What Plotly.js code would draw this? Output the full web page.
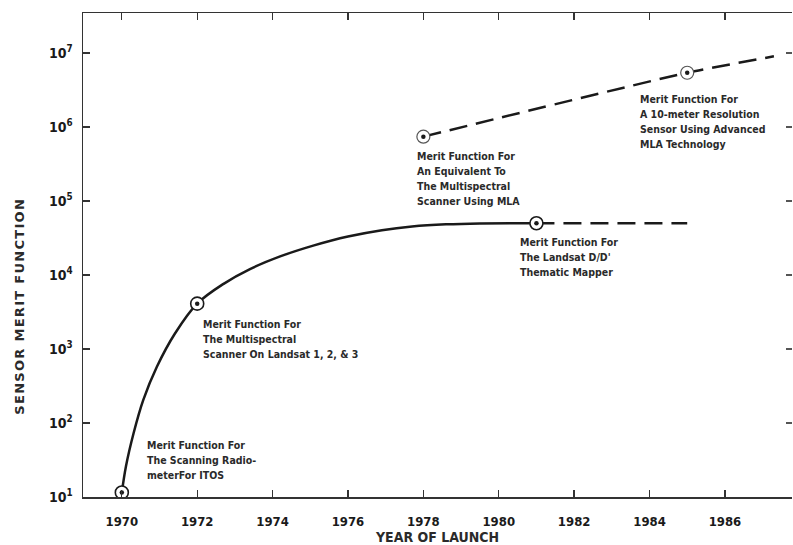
<!DOCTYPE html>
<html>
<head>
<meta charset="utf-8">
<script src="https://cdn.plot.ly/plotly-3.0.1.min.js"></script>
<style>html,body{margin:0;padding:0;background:#fff;overflow:hidden}</style>
</head>
<body>
<div id="chart" style="width:793px;height:545px"></div>
<script>
// Solid curve (achieved sensors)
const curveYears  = [1970, 1970.11, 1970.31, 1970.57, 1970.93, 1971.41, 1972, 1972.7, 1973.4, 1974.2, 1975.1, 1976.0, 1976.9, 1977.7, 1978.6, 1979.5, 1981];
const curveValues = [11.5, 26, 72, 205, 575, 1620, 4100, 7590, 12000, 17800, 25100, 33100, 40300, 45200, 48400, 49800, 50000];

// Dashed continuation of the Landsat D/D' level
const landsatYears  = [1981, 1985];
const landsatValues = [50000, 50000];

// Dashed MLA projection
const mlaYears  = [1978, 1985, 1987.3];
const mlaValues = [740000, 5400000, 9000000];

// Marked sensors
const achievedYears  = [1970, 1972, 1981];
const achievedValues = [11.5, 4100, 50000];
const projectedYears  = [1978, 1985];
const projectedValues = [740000, 5400000];

// Axis ticks
const xTickVals = [1970, 1972, 1974, 1976, 1978, 1980, 1982, 1984, 1986];
const yTickVals = [10, 100, 1000, 10000, 100000, 1000000, 10000000];
const yTickText = ["10<sup>1</sup>", "10<sup>2</sup>", "10<sup>3</sup>", "10<sup>4</sup>", "10<sup>5</sup>", "10<sup>6</sup>", "10<sup>7</sup>"];

// Annotation texts (line by line) and where each block starts (year, log10 value of its top)
const notes = [
  {lines: ["Merit Function For", "The Scanning Radio-", "meterFor ITOS"], x: 1970.62, y: 1.81},
  {lines: ["Merit Function For", "The Multispectral", "Scanner On Landsat 1, 2, & 3"], x: 1972.10, y: 3.45},
  {lines: ["Merit Function For", "An Equivalent To", "The Multispectral", "Scanner Using MLA"], x: 1977.78, y: 5.72},
  {lines: ["Merit Function For", "The Landsat D/D'", "Thematic Mapper"], x: 1980.51, y: 4.56},
  {lines: ["Merit Function For", "A 10-meter Resolution", "Sensor Using Advanced", "MLA Technology"], x: 1983.69, y: 6.48}
];
const LINE_STEP = 15 / 74; // one text line in log10 units on this axis

const FONT = "'Liberation Sans Narrow', 'Arial Narrow', 'DejaVu Sans Condensed', sans-serif";
const INK = "#1a1a1a";

const traces = [
  {x: curveYears, y: curveValues, mode: "lines", line: {color: INK, width: 2.5, shape: "spline", smoothing: 1}, hoverinfo: "skip"},
  {x: landsatYears, y: landsatValues, mode: "lines", line: {color: INK, width: 2.5, dash: "18px,9px"}, hoverinfo: "skip"},
  {x: mlaYears, y: mlaValues, mode: "lines", line: {color: INK, width: 2.5, dash: "18px,9px", shape: "spline", smoothing: 0.6}, hoverinfo: "skip"},
  // achieved: ring + center dot
  {x: achievedYears, y: achievedValues, mode: "markers", marker: {symbol: "circle", size: 13, color: "#ffffff", line: {color: INK, width: 1.6}}, hoverinfo: "skip"},
  {x: achievedYears, y: achievedValues, mode: "markers", marker: {symbol: "circle", size: 4.5, color: INK, line: {width: 0}}, hoverinfo: "skip"},
  // projected: lighter ring + center dot
  {x: projectedYears, y: projectedValues, mode: "markers", marker: {symbol: "circle", size: 13, color: "#ffffff", line: {color: "#555", width: 1.2}}, hoverinfo: "skip"},
  {x: projectedYears, y: projectedValues, mode: "markers", marker: {symbol: "circle", size: 4.5, color: INK, line: {width: 0}}, hoverinfo: "skip"},
  {x: [1970], y: [10], yaxis: "y2", mode: "markers", marker: {opacity: 0}, hoverinfo: "skip"}
];

const annotations = [];
notes.forEach(n => {
  n.lines.forEach((t, i) => {
    annotations.push({
      text: t, x: n.x, y: n.y - i * LINE_STEP, xref: "x", yref: "y",
      xanchor: "left", yanchor: "top", align: "left", showarrow: false,
      font: {family: FONT, size: 10.5, color: "#2a2a2a", weight: "bold"}
    });
  });
});
// y-axis title (sits off-centre in the original, so placed as a rotated label)
annotations.push({
  text: "S\u200AE\u200AN\u200AS\u200AO\u200AR\u2009 M\u200AE\u200AR\u200AI\u200AT\u2009 F\u200AU\u200AN\u200AC\u200AT\u200AI\u200AO\u200AN",
  xref: "paper", yref: "paper", x: -0.089, y: 0.393, textangle: -90,
  xanchor: "center", yanchor: "middle", showarrow: false,
  font: {family: "'DejaVu Sans', sans-serif", size: 13, color: "#2a2a2a", weight: "bold"}
});

const layout = {
  width: 793, height: 545,
  margin: {l: 83, r: 1, t: 13, b: 48},
  paper_bgcolor: "#ffffff", plot_bgcolor: "#ffffff",
  showlegend: false,
  font: {family: FONT, color: INK},
  xaxis: {
    range: [1968.97, 1987.78],
    tickvals: xTickVals, ticktext: xTickVals.map(String),
    ticks: "inside", ticklen: 7, tickwidth: 1.3, tickcolor: "#333",
    showline: true, linecolor: "#333", linewidth: 1.5, mirror: "ticks",
    showgrid: false, zeroline: false,
    tickfont: {family: FONT, size: 13, color: INK, weight: "bold"},
    ticklabelstandoff: 12,
    title: {text: "YEAR OF LAUNCH", font: {family: FONT, size: 14, color: "#2a2a2a", weight: "bold"}, standoff: 4}
  },
  yaxis: {
    type: "log", range: [1, 7.54],
    tickvals: yTickVals, ticktext: yTickText,
    ticks: "inside", ticklen: 7, tickwidth: 1.3, tickcolor: "#333",
    showline: true, linecolor: "#333", linewidth: 1.5,
    showgrid: false, zeroline: false,
    tickfont: {family: FONT, size: 14, color: INK, weight: "bold"},
    ticklabelstandoff: 6
  },
  yaxis2: {
    type: "log", range: [1, 7.54], overlaying: "y", side: "right",
    tickvals: yTickVals, showticklabels: false,
    ticks: "inside", ticklen: 6, tickwidth: 1.2, tickcolor: "#555",
    showline: false, showgrid: false, zeroline: false
  },
  annotations: annotations
};

Plotly.newPlot("chart", traces, layout, {staticPlot: true, displayModeBar: false});
</script>
</body>
</html>
